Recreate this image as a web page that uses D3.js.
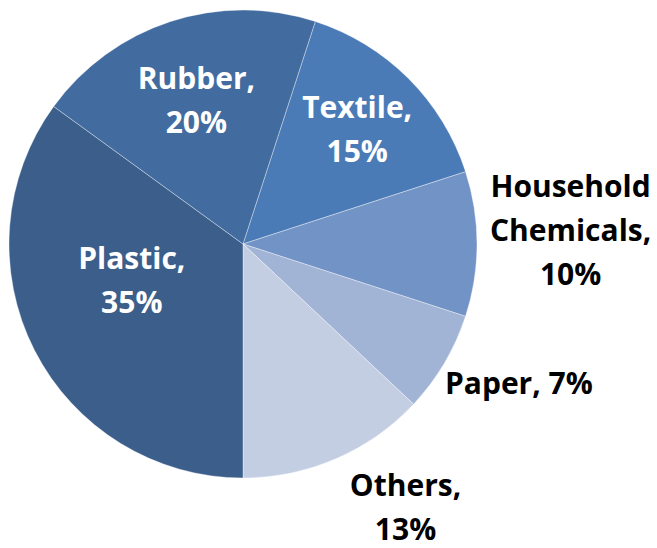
<!DOCTYPE html>
<html lang="en">
<head>
    <meta charset="UTF-8"/>
    <title>Waste composition</title>
    <script src="https://d3js.org/d3.v7.min.js"></script>
    <style>
        body { margin: 0; background: #fff; }
        .slice { stroke: #ffffff; stroke-opacity: 0.45; stroke-width: 0.8; }
        .lbl { font-family: "Open Sans", "DejaVu Sans", sans-serif; font-weight: bold; font-size: 30px; }
    </style>
</head>
<body>
    <div id="chart"></div>
    <script>
        // data, clockwise from the Textile slice
        var categories = ["Textile", "Household Chemicals", "Paper", "Others", "Plastic", "Rubber"];
        var values = [15, 10, 7, 13, 35, 20];
        var labelLines = [
            ["Textile,", "15%"],
            ["Household", "Chemicals,", "10%"],
            ["Paper, 7%"],
            ["Others,", "13%"],
            ["Plastic,", "35%"],
            ["Rubber,", "20%"]
        ];
        var colors = ["#4a7bb7", "#7293c5", "#a2b4d6", "#c3cee3", "#3b5e8b", "#426ca0"];

        var w = 657, h = 548;
        var cx = 243, cy = 244, r = 234;
        var lineH = 44, capH = 21;
        // label layout: distance from centre (fraction of r), extra nudge
        var labelR = [0.69, 1.40, 1.32, 1.34, 0.50, 0.645];
        var nudge = [[0, 0], [0, -14], [10, -18], [38, -24], [-7, -17], [0, 0]];
        var inside = [true, false, false, false, true, true];

        var data = categories.map(function(c, i){
            return {name: c, value: values[i], lines: labelLines[i]};
        });

        var svg = d3.select("#chart").append("svg")
            .attr("width", w)
            .attr("height", h);

        var color = d3.scaleOrdinal()
            .domain(categories)
            .range(colors);

        var pie = d3.pie()
            .sort(null)
            .value(d=>d.value)
            .startAngle(18 * Math.PI / 180)
            .endAngle(378 * Math.PI / 180);

        var arc = d3.arc().innerRadius(0).outerRadius(r);

        var g = svg.append("g").attr("transform", `translate(${cx},${cy})`);
        var arcs = pie(data);

        g.selectAll("path")
            .data(arcs)
            .enter()
            .append("path")
            .attr("class", "slice")
            .attr("fill", d=>color(d.data.name))
            .attr("d", arc);

        var labels = g.selectAll("text")
            .data(arcs)
            .enter()
            .append("text")
            .attr("class", "lbl")
            .attr("text-anchor", "middle")
            .attr("fill", (d, i)=> inside[i] ? "#ffffff" : "#000000")
            .each(function(d, i){
                var mid = (d.startAngle + d.endAngle) / 2;
                var dist = labelR[i] * r;
                var x = dist * Math.sin(mid) + nudge[i][0];
                var y = -dist * Math.cos(mid) + nudge[i][1];
                var n = d.data.lines.length;
                var y0 = y - (n - 1) * lineH / 2 + capH / 2;
                var t = d3.select(this);
                d.data.lines.forEach(function(line, k){
                    t.append("tspan")
                        .attr("x", x)
                        .attr("y", y0 + k * lineH)
                        .text(line);
                });
            });
    </script>
</body>
</html>
